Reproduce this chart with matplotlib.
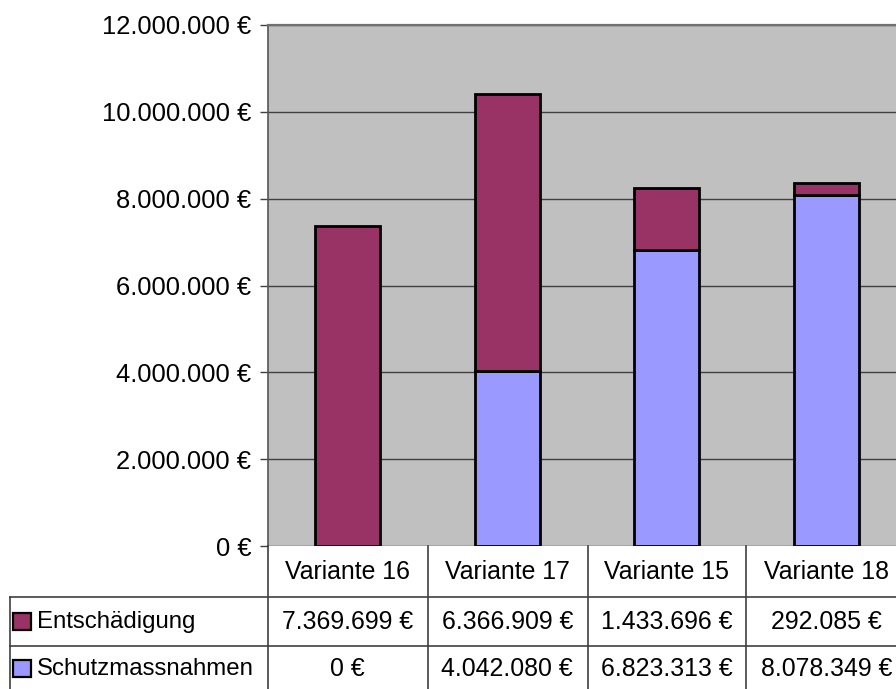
import matplotlib.pyplot as plt
from matplotlib.lines import Line2D
from matplotlib.patches import Rectangle
from matplotlib.ticker import FuncFormatter, MultipleLocator

plt.rcParams['font.family'] = ['Liberation Sans', 'DejaVu Sans']

# data
varianten = ['Variante 16', 'Variante 17', 'Variante 15', 'Variante 18']
entschaedigung = [7369699, 6366909, 1433696, 292085]
schutz = [0, 4042080, 6823313, 8078349]
reihen = ['Entschädigung', 'Schutzmassnahmen']

c_ent = '#993366'
c_sch = '#9999FF'
fs = 17.9


def euro(v, pos=None):
    return '{:,.0f} €'.format(v).replace(',', '.')


W, H = 896, 689
fig = plt.figure(figsize=(W / 100, H / 100), dpi=100)
# plot area is cut off on the right, like the screenshot
ax = fig.add_axes([268 / W, 1 - 546 / H, 638 / W, 521 / H])
ax.set_facecolor('#C0C0C0')

x = range(len(varianten))
ax.bar(x, schutz, width=0.41, color=c_sch, edgecolor='black', linewidth=2.0, zorder=3)
ax.bar(x, entschaedigung, width=0.41, bottom=schutz, color=c_ent,
       edgecolor='black', linewidth=2.0, zorder=3)

ax.set_xlim(-0.5, 3.5)
ax.set_ylim(0, 12000000)
ax.yaxis.set_major_locator(MultipleLocator(2000000))
ax.yaxis.set_major_formatter(FuncFormatter(euro))
ax.grid(axis='y', color='#404040', linewidth=1.0, zorder=1)
ax.set_xticks([])
ax.tick_params(axis='y', labelsize=18.4, length=6, width=1, color='#404040', pad=6)
for s in ['right', 'bottom']:
    ax.spines[s].set_visible(False)
ax.spines['left'].set_color('#555555')
ax.spines['top'].set_color('#707070')
ax.spines['left'].set_linewidth(1.2)
ax.spines['top'].set_linewidth(1.6)

# data table below the chart
def fy(py):
    return 1 - py / H

lc = '#404040'
col_edges = [268, 428, 588, 746]
for xe in col_edges:
    fig.add_artist(Line2D([xe / W, xe / W], [fy(546), 0], color=lc, lw=1.2))
fig.add_artist(Line2D([10 / W, 10 / W], [fy(597), 0], color=lc, lw=1.2))
for ye in [597, 646]:
    fig.add_artist(Line2D([10 / W, 1], [fy(ye), fy(ye)], color=lc, lw=1.2))

tr = ax.get_xaxis_transform()
for i, name in enumerate(varianten):
    ax.text(i, -0.05, name, transform=tr, ha='center', va='center',
            fontsize=fs, clip_on=False)
    ax.text(i, -0.145, euro(entschaedigung[i]), transform=tr, ha='center',
            va='center', fontsize=fs, clip_on=False)
    ax.text(i, -0.237, euro(schutz[i]), transform=tr, ha='center',
            va='center', fontsize=fs, clip_on=False)

for name, col, py in [(reihen[0], c_ent, 622), (reihen[1], c_sch, 669)]:
    fig.add_artist(Rectangle((13 / W, fy(py + 8)), 18 / W, 17 / H,
                             facecolor=col, edgecolor='black', lw=1.6))
    fig.text(37 / W, fy(py), name, ha='left', va='center', fontsize=17.3)

fig.savefig('out.png', dpi=100)
